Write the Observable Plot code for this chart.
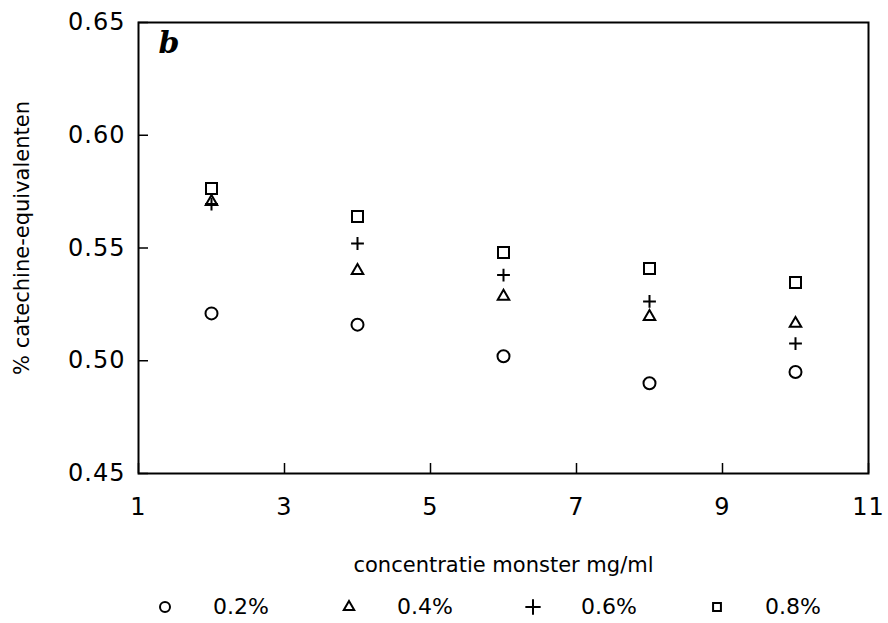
<!DOCTYPE html>
<html><head><meta charset="utf-8">
<script src="https://cdn.jsdelivr.net/npm/d3@7"></script>
<script src="https://cdn.jsdelivr.net/npm/@observablehq/plot@0.6"></script>
<style>
html,body{margin:0;padding:0;background:#fff;}
#chart{width:888px;}
g[aria-label="xlabel"] text{letter-spacing:0.8px;}
g[aria-label="x-axis tick label"] text, g[aria-label="y-axis tick label"] text{letter-spacing:1px;}
.lg-swatches{font-family:"DejaVu Sans",sans-serif !important;font-size:22px !important;padding-left:157px;min-height:33px;display:flex !important;flex-wrap:nowrap !important;align-items:center;margin:0 !important;color:#000;width:731px;overflow:hidden;}
.lg-swatch{width:184px;margin-right:0 !important;flex:none !important;display:inline-flex;align-items:center;white-space:nowrap;}
.lg-swatch:last-child{width:auto;}
.lg-swatch > svg{margin-right:40px !important;}
</style></head>
<body><div id="chart"></div>
<script>
const concentrations = [2, 4, 6, 8, 10];
const series = ["0.2%", "0.4%", "0.6%", "0.8%"];
const symbols = ["circle", "triangle2", "plus", "square2"];
const v02 = [0.521, 0.516, 0.502, 0.490, 0.495];
const v04 = [0.5705, 0.540, 0.5285, 0.5196, 0.5165];
const v06 = [0.5695, 0.552, 0.538, 0.5263, 0.5076];
const v08 = [0.5764, 0.564, 0.548, 0.5409, 0.5347];
const xTicks = [1, 3, 5, 7, 9, 11];
const yTicks = [0.45, 0.50, 0.55, 0.60, 0.65];
const xLabel = "concentratie monster mg/ml";
const yLabel = "% catechine-equivalenten";
const panel = "b";

const values = [v02, v04, v06, v08];
const rows = series.flatMap((s, i) => concentrations.map((c, j) => ({series: s, conc: c, value: values[i][j]})));
const symbolSize = {circle: 6, triangle2: 5.5, plus: 4.2, square2: 7};

const font = "DejaVu Sans, sans-serif";
const H = 590, mt = 22, mb = H - 473, ml = 138, mr = 20;

const dotMarks = series.map((s, i) => Plot.dot(rows.filter(d => d.series === s), {
  x: "conc", y: "value", symbol: symbols[i], r: symbolSize[symbols[i]],
  stroke: "black", strokeWidth: 2, fill: "none"
}));

const plot = Plot.plot({
  width: 888, height: H,
  marginTop: mt, marginBottom: mb, marginLeft: ml, marginRight: mr,
  style: {fontFamily: font, background: "white", color: "black"},
  x: {domain: [1, 11]},
  y: {domain: [0.45, 0.65]},
  marks: [
    Plot.frame({stroke: "black", strokeWidth: 2}),
    Plot.axisX(xTicks, {anchor: "bottom", tickSize: 10, dy: -10, fill: "none", strokeWidth: 1.5, label: null}),
    Plot.axisY(yTicks, {anchor: "left", tickSize: 10, dx: 10, fill: "none", strokeWidth: 1.5, label: null}),
    Plot.axisX(xTicks, {anchor: "bottom", tickSize: 0, tickPadding: 24, fontSize: 24, label: null, tickFormat: d => String(d)}),
    Plot.axisY(yTicks, {anchor: "left", tickSize: 0, tickPadding: 13, fontSize: 24, label: null, tickFormat: d3.format(".2f")}),
    ...dotMarks,
    Plot.text([xLabel], {frameAnchor: "bottom", dy: 92, fontSize: 21, lineAnchor: "middle", ariaLabel: "xlabel", fill: "black"}),
    Plot.text([yLabel], {frameAnchor: "left", dx: -116, dy: -10, rotate: -90, fontSize: 21, lineAnchor: "middle", textAnchor: "middle", fill: "black"}),
    Plot.text([panel], {frameAnchor: "top-left", dx: 20, dy: 21, fontSize: 30, fontStyle: "italic", fontWeight: "bold", fontFamily: "DejaVu Serif, serif", lineAnchor: "middle", fill: "black"})
  ]
});

const legend = Plot.legend({
  symbol: {domain: series, range: symbols},
  fill: "none", stroke: "black", strokeWidth: 2, r: 5,
  swatchSize: 16, className: "lg"
});

const el = document.getElementById("chart");
el.append(plot);
el.append(legend);
</script>
</body></html>
